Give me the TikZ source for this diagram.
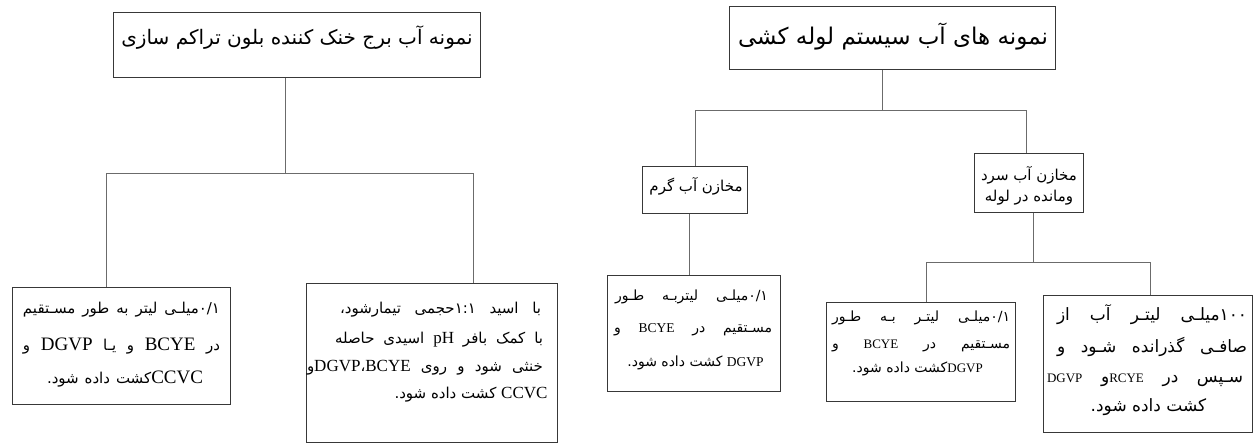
\documentclass[tikz,border=0pt]{standalone}
\usepackage{fontspec}
\setmainfont{Liberation Serif}
\newfontfamily\ar[Script=Arabic]{DejaVu Sans}
\TeXXeTstate=1
\newcommand\lat[2]{{\rmfamily\fontsize{#1}{#1}\selectfont #2}}
\definecolor{lncol}{gray}{0.42}
\definecolor{bxcol}{gray}{0.22}
\tikzset{
  box/.style={draw=bxcol, line width=1pt, inner sep=0pt, fill=none},
  conn/.style={draw=lncol, line width=1pt},
  txt/.style={inner sep=0pt, anchor=center, font=\ar},
}
\begin{document}
\begin{tikzpicture}[x=1pt,y=-1pt]
\useasboundingbox[fill=white] (0,0) rectangle (1253,444);

% ---------- boxes ----------
\node[box, minimum width=367pt, minimum height=65pt] (tl) at (296.5,45.5) {};
\node[box, minimum width=218pt, minimum height=117pt] (bl1) at (121,345.5) {};
\node[box, minimum width=251pt, minimum height=159pt] (bl2) at (431.5,362.5) {};
\node[box, minimum width=326pt, minimum height=63pt] (tr) at (892,38.5) {};
\node[box, minimum width=105pt, minimum height=47pt] (hot) at (694.5,189.5) {};
\node[box, minimum width=109pt, minimum height=59pt] (cold) at (1028.5,182.5) {};
\node[box, minimum width=173pt, minimum height=116pt] (hc) at (693.5,333) {};
\node[box, minimum width=189pt, minimum height=99pt] (cc1) at (920.5,351.5) {};
\node[box, minimum width=209pt, minimum height=137pt] (cc2) at (1147.5,363.5) {};

% ---------- connectors ----------
\coordinate (a1) at (285,173);
\coordinate (a1l) at (106,173);
\coordinate (a1r) at (473,173);
\draw[conn] (a1 |- tl.south) -- (a1);
\draw[conn] (a1l |- bl1.north) -- (a1l) -- (a1r) -- (a1r |- bl2.north);

\coordinate (b1) at (882,110);
\coordinate (b1l) at (695,110);
\coordinate (b1r) at (1026,110);
\draw[conn] (b1 |- tr.south) -- (b1);
\draw[conn] (b1l |- hot.north) -- (b1l) -- (b1r) -- (b1r |- cold.north);

\coordinate (c1) at (689,240);
\draw[conn] (c1 |- hot.south) -- (c1 |- hc.north);

\coordinate (d1) at (1033,262);
\coordinate (d1l) at (926,262);
\coordinate (d1r) at (1150,262);
\draw[conn] (d1 |- cold.south) -- (d1);
\draw[conn] (d1l |- cc1.north) -- (d1l) -- (d1r) -- (d1r |- cc2.north);

% ---------- titles ----------
\node[txt] (tlt) at (297,38) {\fontsize{20}{20}\selectfont \beginR نمونه آب برج خنک کننده بلون تراکم سازی\endR};
\node[txt] (trt) at (893,37) {\fontsize{23}{23}\selectfont \beginR نمونه های آب سیستم لوله کشی\endR};
\node[txt] (hott) at (696,186) {\fontsize{15}{15}\selectfont \beginR مخازن آب گرم\endR};
\node[txt] (coldt1) at (1029,175) {\fontsize{15}{15}\selectfont \beginR مخازن آب سرد\endR};
\node[txt] (coldt2) at (1029,198) {\fontsize{15}{15}\selectfont \beginR ومانده در لوله\endR};

% ---------- bottom-left box ----------
\node[txt] (bl1a) at (121.5,310) {\fontsize{15}{15}\selectfont \makebox[197pt][s]{\beginR ۰/۱میلـی لیتر به طور مسـتقیم\endR}};
\node[txt] (bl1b) at (121.5,346) {\fontsize{15}{15}\selectfont \makebox[197pt][s]{\beginR در \lat{19}{BCYE} و یـا \lat{19}{DGVP} و\endR}};
\node[txt] (bl1c) at (125,379) {\fontsize{15}{15}\selectfont \makebox[156pt][s]{\beginR \lat{19}{CCVC}کشت داده شود.\endR}};

% ---------- second box ----------
\node[txt] (bl2a) at (440.5,310) {\fontsize{15}{15}\selectfont \makebox[201pt][s]{\beginR با اسید ۱:۱حجمی تیمارشود،\endR}};
\node[txt] (bl2b) at (439,340) {\fontsize{15}{15}\selectfont \makebox[208pt][s]{\beginR با کمک بافر \lat{17}{pH} اسیدی حاصله\endR}};
\node[txt] (bl2c) at (425,368) {\fontsize{15}{15}\selectfont \makebox[236pt][s]{\beginR خنثی شود و روی \lat{17}{BCYE}،\lat{17}{DGVP}و\endR}};
\node[txt] (bl2d) at (471,395) {\fontsize{15}{15}\selectfont \beginR \lat{17}{CCVC} کشت داده شود.\endR};

% ---------- hot child ----------
\node[txt] (hca) at (691.5,297) {\fontsize{14}{14}\selectfont \makebox[153pt][s]{\beginR ۰/۱میلـی لیتربـه طـور\endR}};
\node[txt] (hcb) at (693,330) {\fontsize{14}{14}\selectfont \makebox[158pt][s]{\beginR مسـتقیم در \lat{13.5}{BCYE} و\endR}};
\node[txt] (hcc) at (695.5,363) {\fontsize{14}{14}\selectfont \beginR \lat{13.5}{DGVP} کشت داده شود.\endR};

% ---------- cold child 1 ----------
\node[txt] (cc1a) at (921,318) {\fontsize{14}{14}\selectfont \makebox[178pt][s]{\beginR ۰/۱میلـی لیتـر بـه طـور\endR}};
\node[txt] (cc1b) at (921,346) {\fontsize{14}{14}\selectfont \makebox[178pt][s]{\beginR مسـتقیم در \lat{13}{BCYE} و\endR}};
\node[txt] (cc1c) at (917.5,369) {\fontsize{14}{14}\selectfont \beginR \lat{13}{DGVP}کشت داده شود.\endR};

% ---------- cold child 2 ----------
\node[txt] (cc2a) at (1152,315) {\fontsize{17}{17}\selectfont \makebox[190pt][s]{\beginR ۱۰۰میلـی لیتـر آب از\endR}};
\node[txt] (cc2b) at (1152,347) {\fontsize{17}{17}\selectfont \makebox[190pt][s]{\beginR صافـی گذرانده شـود و\endR}};
\node[txt] (cc2c) at (1145,380) {\fontsize{17}{17}\selectfont \makebox[196pt][s]{\beginR سـپس در \lat{13}{RCYE}و \lat{13}{DGVP}\endR}};
\node[txt] (cc2d) at (1148.5,407) {\fontsize{17}{17}\selectfont \beginR کشت داده شود.\endR};
\end{tikzpicture}
\end{document}
